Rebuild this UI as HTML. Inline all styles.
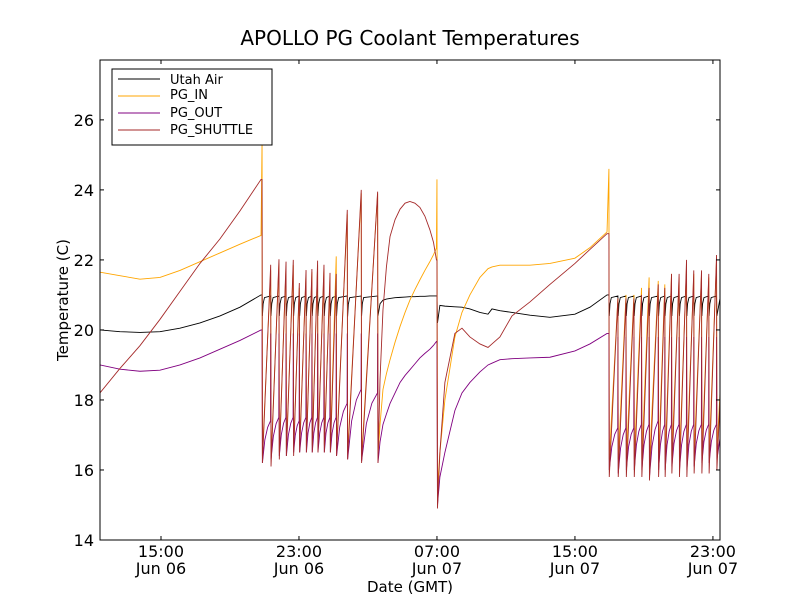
<!DOCTYPE html>
<html><head><meta charset="utf-8"><style>
body{margin:0;background:#fff;}
svg{display:block;font-family:"DejaVu Sans","Liberation Sans",sans-serif;}
</style></head><body>
<svg id="chart" width="800" height="600" viewBox="0 0 800 600">
<rect width="800" height="600" fill="#fff"/>
<text x="410" y="45" font-size="20" text-anchor="middle">APOLLO PG Coolant Temperatures</text>
<text x="410" y="592" font-size="15" text-anchor="middle">Date (GMT)</text>
<text x="68" y="300" font-size="15" text-anchor="middle" transform="rotate(-90 68 300)">Temperature (C)</text>
<g id="plot"></g>
<g id="axes"></g>
<g id="legend">
<rect x="112" y="69" width="160" height="76" fill="#fff" stroke="#000" stroke-width="1"/>
<line x1="118" y1="79" x2="160" y2="79" stroke="#000"/>
<text x="170" y="84" font-size="13">Utah Air</text>
<line x1="118" y1="96" x2="160" y2="96" stroke="#ffa500"/>
<text x="170" y="99" font-size="13">PG_IN</text>
<line x1="118" y1="113" x2="160" y2="113" stroke="#800080"/>
<text x="170" y="117" font-size="13">PG_OUT</text>
<line x1="118" y1="130" x2="160" y2="130" stroke="#a52a2a"/>
<text x="170" y="134" font-size="13">PG_SHUTTLE</text>
</g>
</svg>
<script>
// time in hours since Jun 06 00:00 GMT
const yTicks = [14,16,18,20,22,24,26];
const xTickHours = [15,23,31,39,47];
const xTickTimes = ["15:00","23:00","07:00","15:00","23:00"];
const xTickDates = ["Jun 06","Jun 06","Jun 07","Jun 07","Jun 07"];

// smooth segment A
const segAT = [11.46,12.62,13.78,14.94,16.10,17.26,18.42,19.58,20.80];
const utahA = [20.0,19.95,19.93,19.95,20.05,20.2,20.4,20.65,21.0];
const inA = [21.65,21.55,21.45,21.5,21.7,21.95,22.2,22.45,22.7];
const outA = [19.0,18.88,18.82,18.85,19.0,19.2,19.45,19.7,20.0];
const shutA = [18.2,18.9,19.55,20.3,21.1,21.9,22.6,23.4,24.3];

// cycling block 1 (drop times and values)
const drop1T = [20.86,21.36,21.84,22.25,22.67,23.02,23.41,23.75,24.08,24.45,24.80,25.16,25.80,26.61,27.56];
const shut1Peak = [24.3,21.86,22.02,21.95,22.0,21.34,21.71,21.74,21.98,21.86,21.63,21.6,23.43,24.0,23.95];
const in1Peak = [25.4,21.7,21.9,21.8,21.85,21.2,21.6,21.65,21.85,21.75,21.5,22.1,23.3,23.9,23.9];
const out1Peak = [20.0,19.9,19.9,19.9,19.9,19.9,19.9,19.9,19.9,19.9,19.9,19.9,19.9,19.9,19.9];
const shut1Trough = [16.2,16.1,16.3,16.4,16.4,16.5,16.5,16.5,16.5,16.5,16.5,16.4,16.3,16.2,16.2];
const in1Trough = [16.4,16.3,16.5,16.6,16.6,16.7,16.7,16.7,16.7,16.7,16.7,16.6,16.5,16.4,16.4];
const out1Trough = [16.2,16.3,16.4,16.4,16.5,16.5,16.5,16.5,16.5,16.5,16.5,16.4,16.3,16.25,16.2];
const out1Pre = [17.4,17.5,17.5,17.5,17.4,17.5,17.5,17.5,17.5,17.5,17.5,17.9,18.3,18.2];
const utah1Peak = [21.0,20.97,20.97,20.97,20.97,20.97,20.97,20.97,20.97,20.97,20.97,20.97,20.97,20.97,20.97];
const utah1Dip = [20.4,20.4,20.4,20.4,20.4,20.4,20.4,20.4,20.4,20.4,20.4,20.4,20.38,20.4,20.4];

// smooth segment B
const segBT = [27.70,27.87,28.07,28.28,28.57,28.86,29.15,29.43,29.72,30.01,30.30,30.59,30.80,30.97];
const shutB = [18.6,20.57,21.8,22.67,23.15,23.45,23.62,23.67,23.62,23.5,23.25,22.86,22.5,22.0];
const inB = [17.3,18.3,18.75,19.15,19.65,20.1,20.5,20.85,21.15,21.43,21.7,21.95,22.15,22.34];
const outB = [16.8,17.3,17.6,17.9,18.2,18.5,18.7,18.86,19.03,19.2,19.33,19.45,19.56,19.67];
const utahB = [20.75,20.85,20.88,20.9,20.92,20.93,20.94,20.95,20.95,20.96,20.96,20.97,20.97,20.97];

// spike/drop around 07:00 Jun 07
const spikeT = [31.0,31.03];
const inSpike = [24.3,15.5];
const shutSpike = [22.0,14.9];
const outSpike = [19.67,15.0];
const utahSpike = [20.97,20.2];

// smooth segment C
const segCT = [31.17,31.46,32.04,32.45,32.91,33.49,33.96,34.19,34.65,35.35,36.39,37.55,39.0,39.87,40.86];
const utahC = [20.7,20.68,20.66,20.65,20.6,20.5,20.45,20.6,20.55,20.5,20.42,20.36,20.45,20.65,21.0];
const inC = [16.5,18.0,19.8,20.5,21.0,21.5,21.75,21.8,21.85,21.85,21.85,21.9,22.05,22.35,22.8];
const outC = [15.8,16.5,17.7,18.2,18.5,18.8,19.0,19.05,19.15,19.18,19.2,19.22,19.4,19.6,19.9];
const shutC = [16.5,18.5,19.9,20.05,19.8,19.6,19.5,19.6,19.8,20.4,20.8,21.3,21.9,22.3,22.75];

// cycling block 2
const drop2T = [40.97,41.49,41.96,42.42,42.86,43.30,43.83,44.21,44.60,45.04,45.47,45.89,46.34,46.76,47.21];
const shut2Peak = [22.75,20.9,20.9,20.9,21.0,21.2,21.3,21.2,21.6,21.6,22.0,21.7,21.7,21.6,22.14];
const in2Peak = [24.6,20.9,21.0,21.0,21.2,21.5,21.4,21.3,21.6,21.5,21.8,21.6,21.6,21.5,22.0];
const out2Peak = [19.9,19.8,19.8,19.8,19.8,19.8,19.8,19.8,19.8,19.8,19.8,19.8,19.8,19.8,19.8];
const shut2Trough = [15.8,15.8,15.8,15.8,15.8,15.7,15.8,15.8,15.9,15.8,15.8,15.9,15.9,15.9,16.0];
const in2Trough = [16.3,16.3,16.3,16.3,16.3,16.2,16.3,16.3,16.4,16.3,16.3,16.4,16.4,16.4,16.5];
const out2Trough = [16.0,15.9,16.0,16.0,16.0,15.8,16.0,16.0,16.1,16.0,16.0,16.1,16.2,16.2,16.3];
const out2Pre = [17.2,17.2,17.2,17.3,17.3,17.4,17.3,17.3,17.3,17.3,17.3,17.3,17.3,17.3];
const utah2Peak = [21.0,20.97,20.97,20.97,20.97,20.97,20.97,20.97,20.97,20.97,20.97,20.97,20.97,20.97,20.97];
const utah2Dip = [20.4,20.4,20.4,20.4,20.4,20.4,20.4,20.4,20.4,20.4,20.4,20.4,20.4,20.4,20.4];
const endT = [47.41];
const shutEnd = [18.0];
const inEnd = [18.2];
const outEnd = [16.9];
const utahEnd = [20.9];

const X0=100,X1=720,Y0=60,Y1=540;
const xMin=11.464,xMax=47.41,yMin=14,yMax=27.71;
function xs(t){return X0+(t-xMin)/(xMax-xMin)*(X1-X0);}
function ys(v){return Y1-(v-yMin)/(yMax-yMin)*(Y1-Y0);}

function seg(pts,T,V){for(let i=0;i<T.length;i++)pts.push([T[i],V[i]]);}
function saw(pts,D,P,Tr){
  for(let i=0;i<D.length;i++){
    pts.push([D[i],P[i]]);
    pts.push([D[i]+0.02,Tr[i]]);
  }
}
function sawOut(pts,D,P,Tr,Pre){
  for(let i=0;i<D.length;i++){
    if(i>0){
      const a=D[i-1]+0.02,b=D[i]-0.01;
      pts.push([a+(b-a)*0.3,Tr[i-1]+(Pre[i-1]-Tr[i-1])*0.55]);
      pts.push([a+(b-a)*0.65,Tr[i-1]+(Pre[i-1]-Tr[i-1])*0.85]);
      pts.push([b,Pre[i-1]]);
    }
    pts.push([D[i],P[i]]);
    pts.push([D[i]+0.02,Tr[i]]);
  }
}
function sawUtah(pts,D,P,Dip){
  for(let i=0;i<D.length;i++){
    if(i>0){
      const a=D[i-1]+0.02;
      pts.push([a+0.04,Dip[i-1]+(P[i]-Dip[i-1])*0.6]);
      pts.push([a+0.12,Dip[i-1]+(P[i]-Dip[i-1])*0.92]);
    }
    pts.push([D[i],P[i]]);
    pts.push([D[i]+0.02,Dip[i]]);
  }
}

const series=[];
let p;
p=[];seg(p,segAT,utahA);sawUtah(p,drop1T,utah1Peak,utah1Dip);seg(p,segBT,utahB);seg(p,spikeT,utahSpike);seg(p,segCT,utahC);sawUtah(p,drop2T,utah2Peak,utah2Dip);seg(p,endT,utahEnd);
series.push({name:'utah-air',color:'#000',pts:p});
p=[];seg(p,segAT,inA);saw(p,drop1T,in1Peak,in1Trough);seg(p,segBT,inB);seg(p,spikeT,inSpike);seg(p,segCT,inC);saw(p,drop2T,in2Peak,in2Trough);seg(p,endT,inEnd);
series.push({name:'pg-in',color:'#ffa500',pts:p});
p=[];seg(p,segAT,outA);sawOut(p,drop1T,out1Peak,out1Trough,out1Pre);seg(p,segBT,outB);seg(p,spikeT,outSpike);seg(p,segCT,outC);sawOut(p,drop2T,out2Peak,out2Trough,out2Pre);seg(p,endT,outEnd);
series.push({name:'pg-out',color:'#800080',pts:p});
p=[];seg(p,segAT,shutA);saw(p,drop1T,shut1Peak,shut1Trough);seg(p,segBT,shutB);seg(p,spikeT,shutSpike);seg(p,segCT,shutC);saw(p,drop2T,shut2Peak,shut2Trough);seg(p,endT,shutEnd);
series.push({name:'pg-shuttle',color:'#a52a2a',pts:p});

const NS='http://www.w3.org/2000/svg';
const plot=document.getElementById('plot');
const axes=document.getElementById('axes');
const defs=document.createElementNS(NS,'clipPath');
defs.setAttribute('id','clip');
const cr=document.createElementNS(NS,'rect');
cr.setAttribute('x',X0);cr.setAttribute('y',Y0);cr.setAttribute('width',X1-X0);cr.setAttribute('height',Y1-Y0);
defs.appendChild(cr);
document.getElementById('chart').appendChild(defs);
plot.setAttribute('clip-path','url(#clip)');
series.forEach(s=>{
  const el=document.createElementNS(NS,'path');
  el.setAttribute('d','M'+s.pts.map(q=>xs(q[0]).toFixed(2)+','+ys(q[1]).toFixed(2)).join('L'));
  el.setAttribute('fill','none');
  el.setAttribute('stroke',s.color);
  el.setAttribute('stroke-width','0.9');
  
  
  plot.appendChild(el);
});

const frame=document.createElementNS(NS,'rect');
frame.setAttribute('x',X0);frame.setAttribute('y',Y0);frame.setAttribute('width',X1-X0);frame.setAttribute('height',Y1-Y0);
frame.setAttribute('fill','none');frame.setAttribute('stroke','#000');


axes.appendChild(frame);

yTicks.forEach(v=>{
  const y=ys(v);
  [[X0,X0+4],[X1,X1-4]].forEach(a=>{
    const l=document.createElementNS(NS,'line');
    l.setAttribute('x1',a[0]);l.setAttribute('x2',a[1]);l.setAttribute('y1',y);l.setAttribute('y2',y);l.setAttribute('stroke','#000');
    
    
    axes.appendChild(l);
  });
  const t=document.createElementNS(NS,'text');
  t.setAttribute('x',X0-6);t.setAttribute('y',y+6);t.setAttribute('font-size','16');t.setAttribute('text-anchor','end');
  t.textContent=v;
  
  
  axes.appendChild(t);
});
xTickHours.forEach((h,i)=>{
  const x=xs(h);
  [[Y1,Y1-4],[Y0,Y0+4]].forEach(a=>{
    const l=document.createElementNS(NS,'line');
    l.setAttribute('x1',x);l.setAttribute('x2',x);l.setAttribute('y1',a[0]);l.setAttribute('y2',a[1]);l.setAttribute('stroke','#000');
    
    
    axes.appendChild(l);
  });
  const t=document.createElementNS(NS,'text');
  t.setAttribute('x',x);t.setAttribute('y',557);t.setAttribute('font-size','16');t.setAttribute('text-anchor','middle');
  t.textContent=xTickTimes[i];
  
  
  axes.appendChild(t);
  const d=document.createElementNS(NS,'text');
  d.setAttribute('x',x);d.setAttribute('y',574);d.setAttribute('font-size','16');d.setAttribute('text-anchor','middle');
  d.textContent=xTickDates[i];
  
  
  axes.appendChild(d);
});
</script>
</body></html>
